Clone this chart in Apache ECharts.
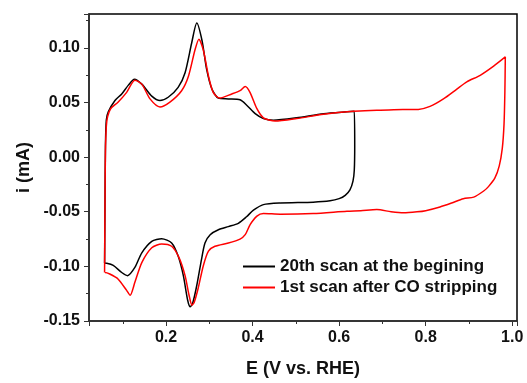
<!DOCTYPE html>
<html>
<head>
<meta charset="utf-8">
<script src="https://cdn.jsdelivr.net/npm/echarts@6/dist/echarts.min.js"></script>
<style>
html,body{margin:0;padding:0;background:#fff;}
#chart{width:527px;height:383px;}
</style>
</head>
<body>
<div id="chart"></div>
<script>
// 20th scan at the begining (closed CV loop)
var blackE = [0.058,0.059,0.060,0.062,0.0666,0.082,0.0976,0.113,0.127,0.144,0.167,0.186,0.205,0.228,0.244,0.259,0.271,0.283,0.294,0.306,0.321,0.344,0.371,0.387,0.406,0.425,0.448,0.502,0.564,0.635,
  0.636,0.635,0.632,0.625,0.614,0.600,0.579,0.540,0.464,0.425,0.402,0.386,0.367,0.344,0.321,0.302,0.290,0.282,0.271,0.262,0.256,0.250,0.240,0.228,0.213,0.190,0.167,0.144,0.128,0.111,0.0976,0.078,0.063,0.058];
var blackI = [-0.097,-0.040,0.010,0.034,0.0414,0.0518,0.0578,0.0659,0.0713,0.0668,0.0558,0.0518,0.0548,0.0638,0.0773,0.104,0.1228,0.107,0.080,0.0623,0.054,0.0533,0.0525,0.0473,0.0398,0.0353,0.0338,0.036,0.0398,0.0419,
  0.010,-0.012,-0.022,-0.030,-0.035,-0.038,-0.040,-0.0412,-0.042,-0.0435,-0.0486,-0.0546,-0.0606,-0.0636,-0.0665,-0.071,-0.0786,-0.0935,-0.1175,-0.133,-0.137,-0.131,-0.1085,-0.0906,-0.0786,-0.0747,-0.0771,-0.0876,-0.101,-0.1085,-0.1056,-0.099,-0.0971,-0.097];

// 1st scan after CO stripping (closed CV loop)
var redE = [0.058,0.059,0.060,0.062,0.065,0.072,0.089,0.109,0.128,0.144,0.163,0.186,0.209,0.236,0.252,0.267,0.276,0.286,0.298,0.309,0.324,0.352,0.371,0.383,0.394,0.410,0.425,0.452,0.502,0.564,0.633,0.687,0.726,0.783,0.810,0.841,0.872,0.895,0.926,0.957,0.984,
  0.983,0.981,0.977,0.970,0.960,0.945,0.934,0.911,0.887,0.860,0.833,0.800,0.780,0.749,0.720,0.687,0.650,0.618,0.540,0.464,0.425,0.410,0.394,0.383,0.371,0.344,0.313,0.298,0.286,0.274,0.265,0.260,0.253,0.244,0.230,0.213,0.190,0.167,0.144,0.128,0.117,0.109,0.089,0.070,0.059,0.058];
var redI = [-0.1056,-0.040,0.005,0.028,0.037,0.0443,0.0503,0.0593,0.0704,0.0668,0.0533,0.0459,0.0504,0.0608,0.0743,0.0983,0.108,0.0983,0.0743,0.0593,0.054,0.0578,0.0608,0.0647,0.0593,0.0443,0.036,0.033,0.0353,0.0392,0.0419,0.0428,0.0434,0.0437,0.0464,0.0533,0.0623,0.0689,0.0749,0.0833,0.0917,
  0.060,0.030,0.008,-0.008,-0.019,-0.027,-0.031,-0.0366,-0.0381,-0.042,-0.0456,-0.049,-0.0501,-0.051,-0.050,-0.048,-0.049,-0.0495,-0.0516,-0.0522,-0.0516,-0.054,-0.062,-0.071,-0.075,-0.0786,-0.0816,-0.086,-0.0996,-0.1205,-0.133,-0.1355,-0.126,-0.1085,-0.092,-0.0816,-0.0795,-0.083,-0.0966,-0.1146,-0.1265,-0.122,-0.1115,-0.107,-0.1056,-0.1056];

var seriesNames = ['20th scan at the begining', '1st scan after CO stripping'];
var xTitle = 'E (V vs. RHE)';
var yTitle = 'i (mA)';

function zip(a, b) { return a.map(function (v, i) { return [v, b[i]]; }); }

var font = 'Liberation Sans, Arial, sans-serif';
var chart = echarts.init(document.getElementById('chart'));
chart.setOption({
  animation: false,
  backgroundColor: '#fff',
  grid: { left: 89, top: 14, right: 10, bottom: 56, show: true, borderColor: '#000', borderWidth: 1.5 },
  legend: {
    orient: 'vertical', left: 238, top: 253, itemWidth: 32, itemHeight: 2, itemGap: 4, itemTextGap: 5,
    icon: 'rect',
    data: seriesNames,
    textStyle: { fontFamily: font, fontWeight: 'bold', fontSize: 17, color: '#111' }
  },
  xAxis: {
    type: 'value', min: 0.022, max: 1.011, splitNumber: 5,
    name: xTitle, nameLocation: 'middle', nameGap: 39,
    nameTextStyle: { fontFamily: font, fontWeight: 'bold', fontSize: 18, color: '#111' },
    axisLine: { onZero: false, lineStyle: { color: '#333', width: 1.5 } },
    axisTick: { inside: false, length: 5, lineStyle: { color: '#333', width: 1 } },
    minorTick: { show: true, splitNumber: 2, length: 3, lineStyle: { color: '#333' } },
    splitLine: { show: false },
    axisLabel: { margin: 9, fontFamily: font, fontWeight: 'bold', fontSize: 16, color: '#111',
      formatter: function (v) { var r = Math.round(v * 10) / 10; return Math.abs(v - r) < 1e-6 ? r.toFixed(1) : ''; } }
  },
  yAxis: {
    type: 'value', min: -0.15, max: 0.131, interval: 0.05,
    name: yTitle, nameLocation: 'middle', nameGap: 56,
    nameTextStyle: { fontFamily: font, fontWeight: 'bold', fontSize: 18, color: '#111' },
    axisLine: { onZero: false, lineStyle: { color: '#333', width: 1.5 } },
    axisTick: { inside: false, length: 5, lineStyle: { color: '#333', width: 1 } },
    minorTick: { show: true, splitNumber: 2, length: 3, lineStyle: { color: '#333' } },
    splitLine: { show: false },
    axisLabel: { margin: 9, fontFamily: font, fontWeight: 'bold', fontSize: 16, color: '#111',
      formatter: function (v) { var r = Math.round(v * 20) / 20; return Math.abs(v - r) < 1e-6 ? r.toFixed(2) : ''; } }
  },
  series: [
    { name: seriesNames[0], type: 'line', data: zip(blackE, blackI), symbol: 'none', smooth: 0.25,
      lineStyle: { color: '#000', width: 1.5 }, itemStyle: { color: '#000' } },
    { name: seriesNames[1], type: 'line', data: zip(redE, redI), symbol: 'none', smooth: 0.25,
      lineStyle: { color: '#ff0000', width: 1.5 }, itemStyle: { color: '#ff0000' } }
  ]
});
</script>
</body>
</html>
